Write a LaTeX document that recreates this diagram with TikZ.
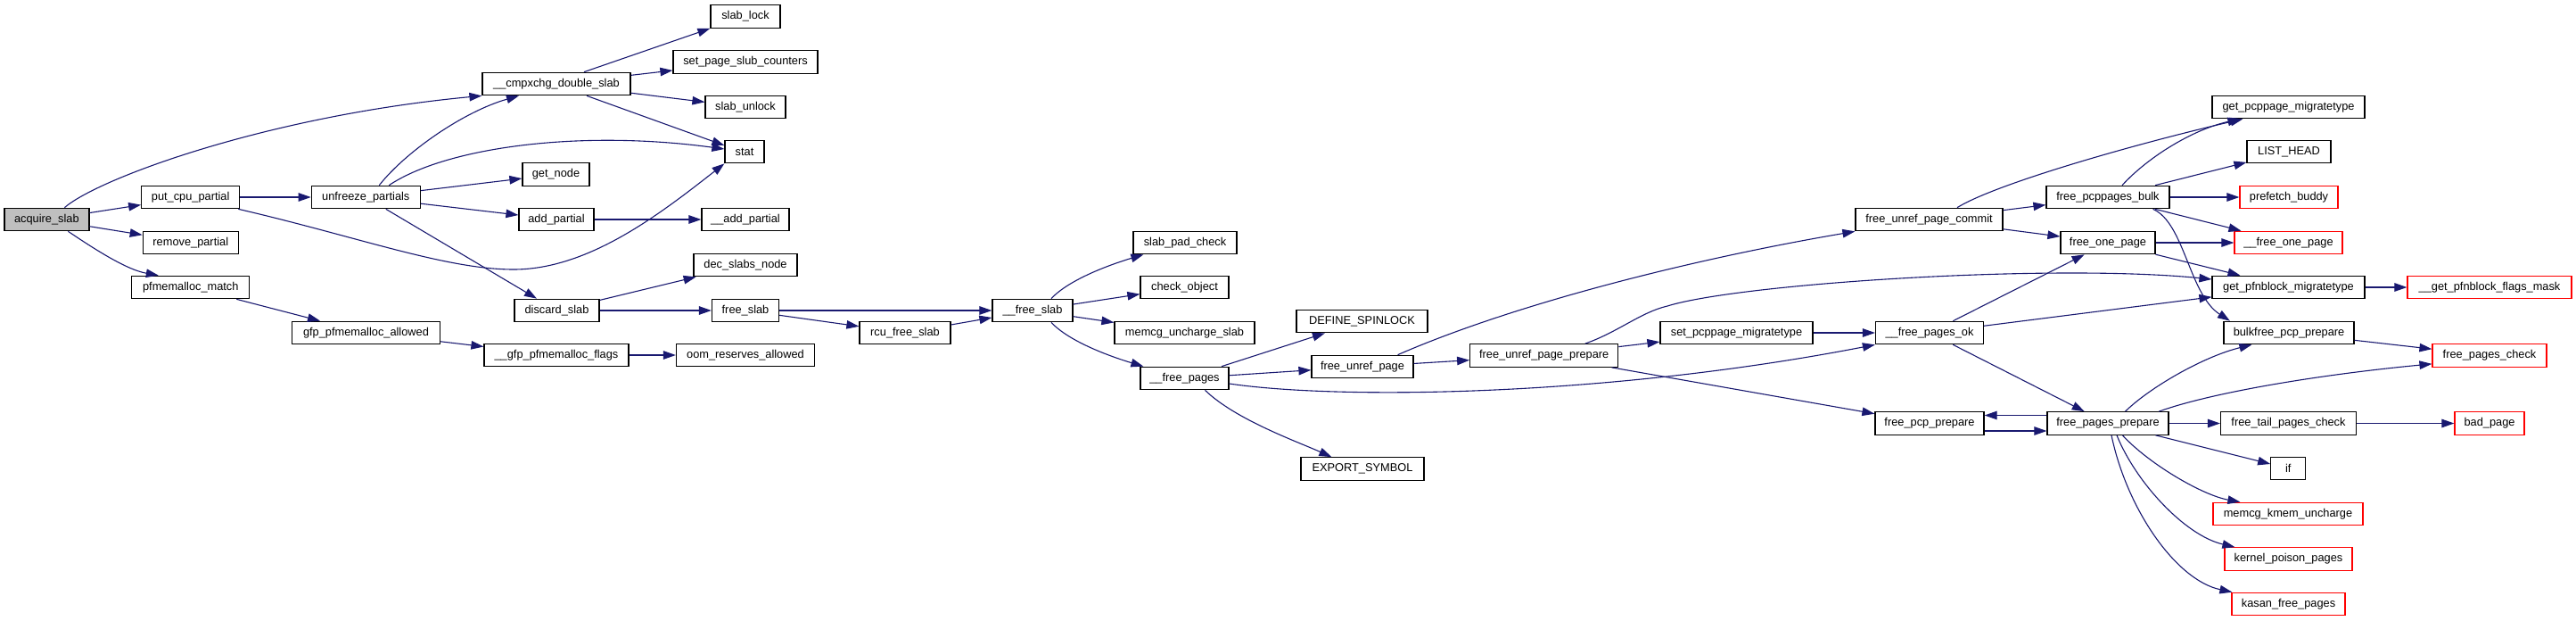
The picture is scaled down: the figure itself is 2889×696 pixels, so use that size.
\documentclass[tikz,border=0pt]{standalone}
\usepackage{fontspec}
\setmainfont{Liberation Sans}
\usetikzlibrary{arrows.meta,calc}
\definecolor{edgeblue}{RGB}{25,25,112}
\definecolor{nodegray}{RGB}{191,191,191}
\begin{document}
\begin{tikzpicture}[x=1pt,y=-1pt,
  box/.style={draw=black,line width=1.2pt,fill=white,minimum height=25.5pt,inner sep=0pt,
    font=\fontsize{12.8}{15}\selectfont},
  redbox/.style={box,draw=red},
  edge/.style={draw=edgeblue,line width=1.1pt,-{Triangle[length=14pt,width=9.5pt]}}]
\useasboundingbox (0,0) rectangle (2889,696);
% nodes
\node[box,fill=nodegray,minimum width=95pt] (acq) at (52.4,246) {acquire\_slab};
\node[box,minimum width=110pt] (pcp) at (213.7,221) {put\_cpu\_partial};
\node[box,minimum width=107pt] (rmp) at (213.8,272) {remove\_partial};
\node[box,minimum width=132pt] (pfm) at (213.8,322) {pfmemalloc\_match};
\node[box,minimum width=122pt] (unf) at (410.3,221) {unfreeze\_partials};
\node[box,minimum width=166pt] (gfpa) at (410.5,373) {gfp\_pfmemalloc\_allowed};
\node[box,minimum width=166pt] (cmp) at (624,94) {\_\_cmpxchg\_double\_slab};
\node[box,minimum width=75pt] (getn) at (623.5,195.5) {get\_node};
\node[box,minimum width=84pt] (addp) at (624,246) {add\_partial};
\node[box,minimum width=95pt] (disc) at (624.5,348) {discard\_slab};
\node[box,minimum width=162pt] (gfpf) at (624,398) {\_\_gfp\_pfmemalloc\_flags};
\node[box,minimum width=78pt] (slock) at (836,18.5) {slab\_lock};
\node[box,minimum width=162pt] (spsc) at (836,69.5) {set\_page\_slub\_counters};
\node[box,minimum width=90pt] (sunl) at (836,120) {slab\_unlock};
\node[box,minimum width=44pt] (stat) at (835,170) {stat};
\node[box,minimum width=98pt] (addp2) at (836,246) {\_\_add\_partial};
\node[box,minimum width=116pt] (dsn) at (836,297) {dec\_slabs\_node};
\node[box,minimum width=75pt] (fslab) at (836,348) {free\_slab};
\node[box,minimum width=155pt] (oom) at (836,398) {oom\_reserves\_allowed};
\node[box,minimum width=102pt] (rcu) at (1015,373) {rcu\_free\_slab};
\node[box,minimum width=90pt] (fsl2) at (1158,348) {\_\_free\_slab};
\node[box,minimum width=116pt] (spc) at (1329,272) {slab\_pad\_check};
\node[box,minimum width=99pt] (chk) at (1328.5,322) {check\_object};
\node[box,minimum width=157pt] (mus) at (1328.5,373) {memcg\_uncharge\_slab};
\node[box,minimum width=99pt] (fpg) at (1328.5,424) {\_\_free\_pages};
\node[box,minimum width=147pt] (dsp) at (1527.5,360) {DEFINE\_SPINLOCK};
\node[box,minimum width=114pt] (fup) at (1528,411) {free\_unref\_page};
\node[box,minimum width=138pt] (exp) at (1528,525.5) {EXPORT\_SYMBOL};
\node[box,minimum width=166pt] (fupp) at (1731.7,398.5) {free\_unref\_page\_prepare};
\node[box,minimum width=171pt] (spm) at (1947.5,373) {set\_pcppage\_migratetype};
\node[box,minimum width=165pt] (fupc) at (2163.5,246) {free\_unref\_page\_commit};
\node[box,minimum width=121pt] (fpok) at (2164,373) {\_\_free\_pages\_ok};
\node[box,minimum width=122pt] (fpcp) at (2164,474.5) {free\_pcp\_prepare};
\node[box,minimum width=138pt] (fpb) at (2364,221) {free\_pcppages\_bulk};
\node[box,minimum width=106pt] (fop) at (2364,272) {free\_one\_page};
\node[box,minimum width=136pt] (fpp) at (2364,474.5) {free\_pages\_prepare};
\node[box,minimum width=171pt] (gpm) at (2566.5,120) {get\_pcppage\_migratetype};
\node[box,minimum width=94pt] (lh) at (2567,170) {LIST\_HEAD};
\node[redbox,minimum width=110pt] (pfb) at (2567,221) {prefetch\_buddy};
\node[redbox,minimum width=121pt] (fop2) at (2566.5,272) {\_\_free\_one\_page};
\node[box,minimum width=171pt] (gpfm) at (2566.5,322) {get\_pfnblock\_migratetype};
\node[box,minimum width=146pt] (bpp) at (2567,373) {bulkfree\_pcp\_prepare};
\node[box,minimum width=152pt] (ftpc) at (2566.5,474.5) {free\_tail\_pages\_check};
\node[box,minimum width=39pt] (iff) at (2566.3,525) {if};
\node[redbox,minimum width=168pt] (mku) at (2566,576) {memcg\_kmem\_uncharge};
\node[redbox,minimum width=143pt] (kpp) at (2566.5,626.5) {kernel\_poison\_pages};
\node[redbox,minimum width=127pt] (kfp) at (2566.5,677) {kasan\_free\_pages};
\node[redbox,minimum width=184pt] (gpfx) at (2792,322) {\_\_get\_pfnblock\_flags\_mask};
\node[redbox,minimum width=128pt] (fpc) at (2792,398.5) {free\_pages\_check};
\node[redbox,minimum width=78pt] (bad) at (2792,474.5) {bad\_page};
% edges
\draw[edge] ($(acq.north)+(20,0)$) .. controls (110,200) and (300,130) .. (cmp.south west);
\draw[edge] (acq) -- (pcp);
\draw[edge] (acq) -- (rmp);
\draw[edge] ($(acq.south)+(24,0)$) .. controls (100,275) and (140,302) .. ($(pfm.north)+(-36,0)$);
\draw[edge] (pcp) -- (unf);
\draw[edge] ($(pcp.south east)+(-2,0)$) .. controls (400,265) and (500,302) .. (576,302)
   .. controls (660,302) and (740,240) .. (stat.south west);
\draw[edge] ($(unf.north)+(15,0)$) .. controls (455,170) and (520,125) .. ($(cmp.south)+(-42,0)$);
\draw[edge] ($(unf.north)+(26,0)$) .. controls (500,165) and (650,145) .. ($(stat.west)+(0,-3)$);
\draw[edge] (unf) -- (getn);
\draw[edge] (unf) -- (addp);
\draw[edge] (unf) -- (disc);
\draw[edge] ($(cmp.north)+(31,0)$) -- (slock.south west);
\draw[edge] (cmp) -- (spsc);
\draw[edge] (cmp) -- (sunl);
\draw[edge] ($(cmp.south)+(34,0)$) -- ($(stat.west)+(0,-7)$);
\draw[edge] (addp) -- (addp2);
\draw[edge] (disc) -- (dsn);
\draw[edge] (disc) -- (fslab);
\draw[edge] (fslab) -- (fsl2);
\draw[edge] (fslab) -- (rcu);
\draw[edge] (rcu) -- (fsl2);
\draw[edge] (pfm) -- (gfpa);
\draw[edge] (gfpa) -- (gfpf);
\draw[edge] (gfpf) -- (oom);
\draw[edge] ($(fsl2.north)+(21,0)$) .. controls (1200,312) and (1250,295) .. ($(spc.south west)+(12,0)$);
\draw[edge] (fsl2) -- (chk);
\draw[edge] (fsl2) -- (mus);
\draw[edge] ($(fsl2.south)+(21,0)$) .. controls (1200,384) and (1250,401) .. ($(fpg.north west)+(4,0)$);
\draw[edge] (fpg) -- (dsp);
\draw[edge] (fpg) -- (fup);
\draw[edge] ($(fpg.south)+(23,0)$) .. controls (1385,470) and (1455,495) .. ($(exp.north west)+(35,0)$);
\draw[edge] ($(fpg.east)+(0,6)$) .. controls (1500,448) and (1800,445) .. (fpok.south west);
\draw[edge] (fup) -- (fupp);
\draw[edge] ($(fup.north east)+(-18,0)$) .. controls (1700,340) and (1900,290) .. (fupc.south west);
\draw[edge] (fupp) -- (spm);
\draw[edge] ($(fupp.north)+(46,0)$) .. controls (1815,372) and (1840,350) .. (1870,343)
   .. controls (1950,318) and (2300,295) .. ($(gpfm.west)+(0,-9)$);
\draw[edge] (fupp) -- (fpcp);
\draw[edge] (spm) -- (fpok);
\draw[edge] (fupc) -- (fpb);
\draw[edge] (fupc) -- (fop);
\draw[edge] ($(fupc.north)+(31.5,0)$) .. controls (2240,205) and (2400,160) .. ($(gpm.south west)+(35,0)$);
\draw[edge] ($(fpb.north)+(16,0)$) .. controls (2410,175) and (2460,145) .. ($(gpm.south west)+(32,0)$);
\draw[edge] (fpb) -- (lh);
\draw[edge] (fpb) -- (pfb);
\draw[edge] (fpb) -- (fop2);
\draw[edge] ($(fpb.south east)+(-19,0)$) .. controls (2450,250) and (2455,330) .. ($(bpp.north west)+(7.5,0)$);
\draw[edge] (fop) -- (fop2);
\draw[edge] (fop) -- (gpfm);
\draw[edge] (fpok) -- (fop);
\draw[edge] (fpok) -- (gpfm);
\draw[edge] (fpok) -- (fpp);
\draw[edge] (gpfm) -- (gpfx);
\draw[edge] (bpp) -- (fpc);
\draw[edge] ($(fpcp.east)+(0,8.5)$) -- ($(fpp.west)+(0,8.5)$);
\draw[edge] ($(fpp.west)+(0,-9)$) -- ($(fpcp.east)+(0,-9)$);
\draw[edge] ($(fpp.north)+(19.5,0)$) .. controls (2410,435) and (2470,400) .. ($(bpp.south west)+(32,0)$);
\draw[edge] ($(fpp.north east)+(-11.4,0)$) .. controls (2480,440) and (2600,420) .. ($(fpc.south west)+(0,-4)$);
\draw[edge] (fpp) -- (ftpc);
\draw[edge] (fpp) -- (iff);
\draw[edge] ($(fpp.south)+(16.4,0)$) .. controls (2410,520) and (2470,555) .. ($(mku.north west)+(31,0)$);
\draw[edge] ($(fpp.south)+(10,0)$) .. controls (2395,540) and (2450,600) .. ($(kpp.north west)+(12,0)$);
\draw[edge] ($(fpp.south)+(4,0)$) .. controls (2385,570) and (2440,650) .. ($(kfp.north west)+(1,0)$);
\draw[edge] (ftpc) -- (bad);
\end{tikzpicture}
\end{document}
